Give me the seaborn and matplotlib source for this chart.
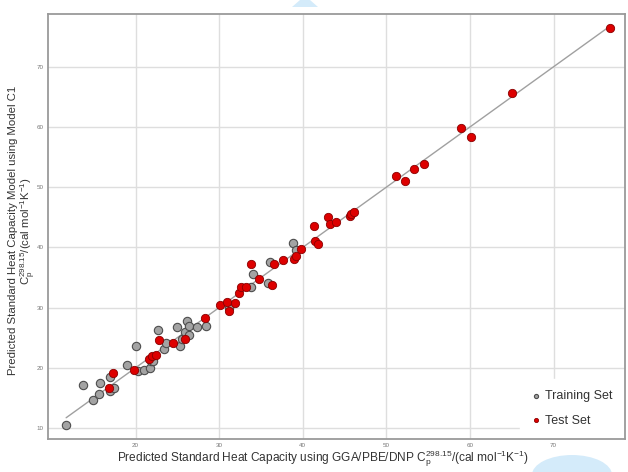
import numpy as np
import pandas as pd
import matplotlib
matplotlib.use('Agg')
import matplotlib.pyplot as plt
import seaborn as sns
from matplotlib.patches import Polygon, Ellipse

# Training set: (GGA/PBE/DNP value, model C1 value)
train_x = [11.7, 13.7, 14.9, 15.6, 15.7, 16.9, 16.9, 17.4, 19.0, 20.1, 20.3, 21.0,
           21.7, 21.8, 22.1, 22.7, 23.4, 23.7, 25.0, 25.3, 25.5, 25.9, 26.1, 26.4,
           26.4, 27.4, 28.4, 31.2, 33.8, 34.1, 35.9, 36.1, 38.8, 39.2]
train_y = [10.5, 17.1, 14.7, 15.6, 17.4, 18.4, 16.1, 16.7, 20.5, 23.6, 19.5, 19.7,
           20.0, 21.2, 21.2, 26.3, 23.2, 24.2, 26.8, 23.6, 24.8, 26.0, 27.7, 26.9,
           25.5, 26.7, 27.0, 29.9, 33.4, 35.5, 34.1, 37.6, 40.8, 39.5]

# Test set
test_x = [16.8, 17.3, 19.8, 21.6, 22.0, 22.4, 22.8, 24.5, 25.9, 28.3, 30.1, 31.0,
          31.2, 31.9, 32.4, 32.6, 33.2, 33.8, 34.8, 36.3, 36.6, 37.7, 38.9, 39.2,
          39.8, 41.4, 41.5, 41.8, 43.0, 43.3, 44.0, 45.7, 45.8, 46.1, 51.2, 52.2,
          53.3, 54.5, 58.9, 60.1, 65.0, 76.8]
test_y = [16.7, 19.2, 19.7, 21.5, 21.9, 22.1, 24.6, 24.2, 24.8, 28.3, 30.5, 31.0,
          29.4, 30.7, 32.4, 33.4, 33.5, 37.2, 34.8, 33.8, 37.3, 37.9, 38.1, 38.5,
          39.7, 43.6, 41.0, 40.5, 45.0, 43.9, 44.3, 45.2, 45.6, 45.8, 51.8, 51.1,
          53.1, 53.8, 59.8, 58.4, 65.7, 76.4]

ticks = [20, 30, 40, 50, 60, 70]
yticks = [10, 20, 30, 40, 50, 60, 70]

train = pd.DataFrame({'x': train_x, 'y': train_y})
test = pd.DataFrame({'x': test_x, 'y': test_y})

sns.set_style('whitegrid', {'grid.color': '#dedede', 'axes.edgecolor': '#9a9a9a'})
plt.rcParams['font.family'] = ['Liberation Sans', 'DejaVu Sans']

fig = plt.figure(figsize=(6.28, 4.72), dpi=100)
ax = fig.add_axes([48 / 628, 1 - 439 / 472, 577 / 628, 425 / 472])

# y = x reference line over the data range
all_x = train_x + test_x
lo, hi = min(all_x), max(all_x)
ax.plot([lo, hi], [lo, hi], color='#a0a0a0', lw=1.0, zorder=2)

sns.scatterplot(data=train, x='x', y='y', ax=ax, s=36, color='#a3a3a3',
                edgecolor='#4d4d4d', linewidth=0.8, label='Training Set', zorder=3)
sns.scatterplot(data=test, x='x', y='y', ax=ax, s=36, color='#dd0000',
                edgecolor='#8a0000', linewidth=0.6, label='Test Set', zorder=4)

ax.set_xlim(9.53, 78.55)
ax.set_ylim(8.17, 78.77)
ax.set_xticks(ticks)
ax.set_yticks(yticks)
ax.grid(True, lw=1.0)
ax.tick_params(axis='both', labelsize=4.5, colors='#777777', length=2, width=0.6, pad=1.0)
for sp in ax.spines.values():
    sp.set_linewidth(1.3)
    sp.set_color('#9a9a9a')
    sp.set_zorder(6)

ax.set_xlabel(r'Predicted Standard Heat Capacity using GGA/PBE/DNP C$_\mathregular{p}^\mathregular{298.15}$/(cal mol$^\mathregular{-1}$K$^\mathregular{-1}$)',
              fontsize=8.6, color='#333333')
ax.xaxis.set_label_coords(0.477, -0.022)
ax.xaxis.label.set_va('top')
ax.set_ylabel('Predicted Standard Heat Capacity Model using Model C1\n'
              r'C$_\mathregular{p}^\mathregular{298.15}$/(cal mol$^\mathregular{-1}$K$^\mathregular{-1}$)',
              fontsize=8.2, color='#333333', linespacing=1.0)
ax.yaxis.set_label_coords(-0.018, 0.49)

leg = ax.legend(loc='lower right', bbox_to_anchor=(1.0, 0.0), borderaxespad=0.1,
                frameon=True, facecolor='white', edgecolor='white', framealpha=1,
                fontsize=9, markerscale=0.5, handlelength=0.8, handletextpad=0.3,
                labelspacing=1.0, borderpad=0.9)
for t in leg.get_texts():
    t.set_color('#333333')
leg.set_zorder(5)

# light blue watermark shapes at the image edges
fig.patches.append(Polygon([(292 / 628, 1 - 7 / 472), (318 / 628, 1 - 7 / 472),
                            (310 / 628, 1.0), (300 / 628, 1.0)],
                           closed=True, transform=fig.transFigure,
                           facecolor='#d4ebfa', edgecolor='none'))
fig.patches.append(Ellipse((572 / 628, 1 - 475 / 472), 80 / 628, 40 / 472,
                           transform=fig.transFigure,
                           facecolor='#d4ebfa', edgecolor='none'))

fig.savefig('out.png', dpi=100)
